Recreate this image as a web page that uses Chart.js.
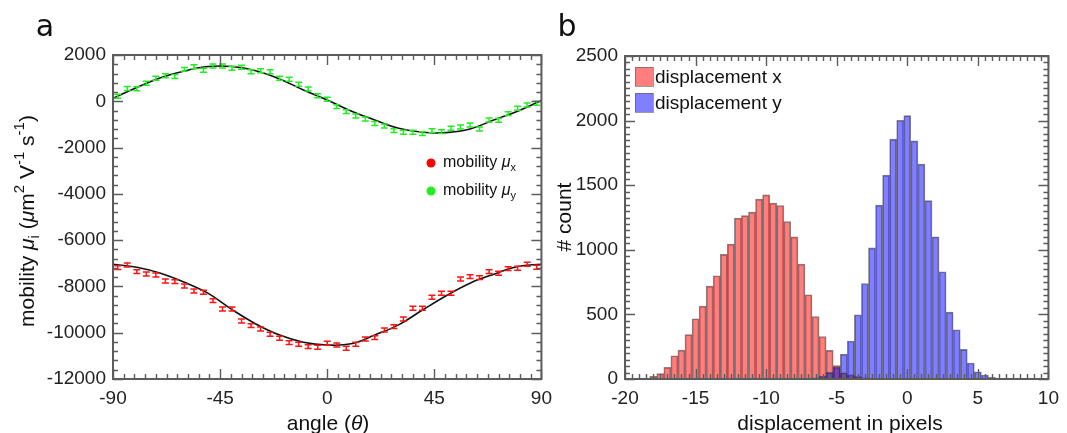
<!DOCTYPE html>
<html>
<head>
<meta charset="utf-8">
<script src="https://cdn.jsdelivr.net/npm/chart.js@4/dist/chart.umd.min.js"></script>
<style>
  body { margin: 0; background: #fff; width: 1067px; height: 433px; overflow: hidden; position: relative; }
  #left { position: absolute; left: 0; top: 0; width: 560px; height: 433px; }
  #right { position: absolute; left: 545px; top: 0; width: 522px; height: 433px; }
</style>
</head>
<body>
<div id="left"><canvas id="mobChart"></canvas></div>
<div id="right"><canvas id="histChart"></canvas></div>
<script>
  // panel a: measured mobilities vs angle
  var angles = [-88,-84,-80,-76,-72,-68,-64,-60,-56,-52,-48,-44,-40,-36,-32,-28,-24,-20,-16,-12,-8,-4,0,4,8,12,16,20,24,28,32,36,40,44,48,52,56,60,64,68,72,76,80,84,88];
  var mobX = [-7187,-7072,-7360,-7461,-7504,-7763,-7792,-7979,-8195,-8253,-8613,-8973,-8973,-9491,-9693,-9837,-10067,-10240,-10427,-10499,-10600,-10629,-10456,-10528,-10672,-10499,-10269,-10211,-9880,-9736,-9405,-8944,-8944,-8469,-8296,-8296,-7677,-7576,-7619,-7360,-7432,-7230,-7216,-7043,-7173];
  var mobY = [220,550,545,776,992,1100,1070,1380,1496,1338,1525,1525,1424,1467,1280,1323,1280,992,949,733,531,243,85,-232,-448,-635,-765,-960,-1067,-1269,-1341,-1341,-1398,-1269,-1312,-1168,-1110,-1024,-1197,-808,-822,-534,-303,-160,-88];
  var errX = 85;
  var errY = 85;
  // fitted curves, read every 10 degrees
  var fitAngles = [-90,-80,-70,-60,-50,-40,-30,-20,-10,0,10,20,30,40,50,60,70,80,90];
  var fitX = [-7040,-7170,-7430,-7820,-8300,-9000,-9620,-10100,-10410,-10530,-10480,-10100,-9660,-9020,-8400,-7860,-7470,-7140,-7040];
  var fitY = [128,600,1020,1310,1500,1500,1320,965,490,56,-420,-808,-1168,-1340,-1355,-1197,-808,-430,30];

  // panel b: histograms (bin centres, bin width 0.5 px)
  var redCenters = [-18.5,-18,-17.5,-17,-16.5,-16,-15.5,-15,-14.5,-14,-13.5,-13,-12.5,-12,-11.5,-11,-10.5,-10,-9.5,-9,-8.5,-8,-7.5,-7,-6.5,-6,-5.5,-5,-4.5,-4,-3.5,-3,-2.5];
  var redCounts  = [5,20,41,90,180,224,343,466,564,719,799,964,1044,1245,1265,1291,1392,1425,1361,1343,1219,1100,889,652,484,329,221,103,48,31,18,10,4];
  var blueCenters = [-7,-6.5,-6,-5.5,-5,-4.5,-4,-3.5,-3,-2.5,-2,-1.5,-1,-0.5,0,0.5,1,1.5,2,2.5,3,3.5,4,4.5,5,5.5,6,6.5];
  var blueCounts  = [4,10,20,51,92,193,294,497,739,1015,1346,1578,1856,2003,2039,1843,1663,1381,1100,830,518,381,229,124,56,31,12,5];

  var FONT = '"Liberation Sans", Arial, sans-serif';

  function richWidth(ctx, parts, size) {
    var w = 0;
    parts.forEach(function (p) { ctx.font = partFont(p, size); w += ctx.measureText(p.t).width; });
    return w;
  }
  function partFont(p, size) {
    var s = (p.sub || p.sup) ? Math.round(size * 0.7) : size;
    return (p.it ? 'italic ' : '') + s + 'px ' + FONT;
  }
  function drawRich(ctx, parts, x, y, size, center) {
    var cx = center ? x - richWidth(ctx, parts, size) / 2 : x;
    ctx.textBaseline = 'middle';
    ctx.textAlign = 'left';
    parts.forEach(function (p) {
      ctx.font = partFont(p, size);
      var dy = p.sub ? size * 0.32 : (p.sup ? -size * 0.38 : 0);
      ctx.fillText(p.t, cx, y + dy);
      cx += ctx.measureText(p.t).width;
    });
  }

  // box with inward ticks on all four sides
  function frame(o) {
    return {
      id: 'frame',
      afterDatasetsDraw: function (chart) {
        var a = chart.chartArea, ctx = chart.ctx, xs = chart.scales.x, ys = chart.scales.y;
        ctx.save();
        ctx.strokeStyle = '#5c5c5c';
        ctx.lineWidth = 1.4;
        ctx.beginPath();
        var n = Math.round((xs.max - xs.min) / o.xMinor);
        for (var k = 0; k <= n; k++) {
          var v = xs.min + k * o.xMinor;
          var L = (Math.abs(v / o.xMajor - Math.round(v / o.xMajor)) < 1e-6) ? 10 : 5;
          var px = Math.round(xs.getPixelForValue(v)) + 0.5;
          ctx.moveTo(px, a.bottom); ctx.lineTo(px, a.bottom - L);
          ctx.moveTo(px, a.top); ctx.lineTo(px, a.top + L);
        }
        n = Math.round((ys.max - ys.min) / o.yMinor);
        for (k = 0; k <= n; k++) {
          v = ys.min + k * o.yMinor;
          L = (Math.abs(v / o.yMajor - Math.round(v / o.yMajor)) < 1e-6) ? 10 : 5;
          var py = Math.round(ys.getPixelForValue(v)) + 0.5;
          ctx.moveTo(a.left, py); ctx.lineTo(a.left + L, py);
          ctx.moveTo(a.right, py); ctx.lineTo(a.right - L, py);
        }
        ctx.stroke();
        ctx.lineWidth = 2;
        ctx.strokeRect(a.left, a.top, a.right - a.left, a.bottom - a.top);
        ctx.restore();
      }
    };
  }

  var errorBars = {
    id: 'errorBars',
    afterDatasetsDraw: function (chart) {
      var ctx = chart.ctx, ys = chart.scales.y;
      chart.data.datasets.forEach(function (ds, i) {
        if (ds.err === undefined) return;
        var meta = chart.getDatasetMeta(i);
        ctx.save();
        ctx.strokeStyle = ds.borderColor;
        ctx.lineWidth = 1.5;
        ctx.beginPath();
        meta.data.forEach(function (pt, j) {
          var v = ds.data[j].y;
          var t = ys.getPixelForValue(v + ds.err), b = ys.getPixelForValue(v - ds.err);
          ctx.moveTo(pt.x, t); ctx.lineTo(pt.x, b);
          ctx.moveTo(pt.x - 3.5, t); ctx.lineTo(pt.x + 3.5, t);
          ctx.moveTo(pt.x - 3.5, b); ctx.lineTo(pt.x + 3.5, b);
        });
        ctx.stroke();
        ctx.restore();
      });
    }
  };

  var leftText = {
    id: 'leftText',
    afterDraw: function (chart) {
      var ctx = chart.ctx;
      ctx.save();
      ctx.fillStyle = '#111';
      ctx.font = '30px "DejaVu Sans", sans-serif';
      ctx.textAlign = 'center';
      ctx.textBaseline = 'alphabetic';
      ctx.fillText('a', 45, 36);

      drawRich(ctx, [{t: 'angle ('}, {t: 'θ', it: true}, {t: ')'}], 328, 424, 21, true);

      ctx.save();
      ctx.translate(28, 221);
      ctx.rotate(-Math.PI / 2);
      drawRich(ctx, [
        {t: 'mobility '}, {t: 'μ', it: true}, {t: 'i', sub: true}, {t: ' ('}, {t: 'μ', it: true}, {t: 'm'},
        {t: '2', sup: true}, {t: ' V'}, {t: '-1', sup: true}, {t: ' s'}, {t: '-1', sup: true}, {t: ')'}
      ], 0, 0, 21, true);
      ctx.restore();

      var items = [['#ff0000', 'x', 163], ['#22ee22', 'y', 191]];
      items.forEach(function (it) {
        ctx.fillStyle = it[0];
        ctx.beginPath();
        ctx.arc(431, it[2], 4.5, 0, Math.PI * 2);
        ctx.fill();
        ctx.fillStyle = '#111';
        drawRich(ctx, [{t: 'mobility '}, {t: 'μ', it: true}, {t: it[1], sub: true}], 443, it[2], 16, false);
      });
      ctx.restore();
    }
  };

  var rightText = {
    id: 'rightText',
    afterDraw: function (chart) {
      var ctx = chart.ctx;
      ctx.save();
      ctx.fillStyle = '#111';
      ctx.font = '30px "DejaVu Sans", sans-serif';
      ctx.textAlign = 'center';
      ctx.textBaseline = 'alphabetic';
      ctx.fillText('b', 22, 36);

      drawRich(ctx, [{t: 'displacement in pixels'}], 295, 424, 21, true);

      ctx.save();
      ctx.translate(20, 217);
      ctx.rotate(-Math.PI / 2);
      drawRich(ctx, [{t: '# count'}], 0, 0, 21, true);
      ctx.restore();

      var legend = [['rgba(255,0,0,0.5)', 'displacement x', 67], ['rgba(0,0,255,0.5)', 'displacement y', 93]];
      legend.forEach(function (l) {
        ctx.fillStyle = l[0];
        ctx.fillRect(90, l[2], 18, 19);
        ctx.strokeStyle = 'rgba(90,90,90,0.6)';
        ctx.lineWidth = 1;
        ctx.strokeRect(90.5, l[2] + 0.5, 18, 19);
        ctx.fillStyle = '#111';
        drawRich(ctx, [{t: l[1]}], 110, l[2] + 11, 19, false);
      });
      ctx.restore();
    }
  };

  var tickFont = { family: FONT, size: 19 };
  function plain(v) { return String(v); }

  new Chart(document.getElementById('mobChart'), {
    type: 'scatter',
    data: {
      datasets: [
        { label: 'mobility μx', data: angles.map(function (a, i) { return {x: a, y: mobX[i]}; }),
          borderColor: '#ff1414', backgroundColor: '#ff1414', pointRadius: 0, err: errX },
        { label: 'mobility μy', data: angles.map(function (a, i) { return {x: a, y: mobY[i]}; }),
          borderColor: '#22ee22', backgroundColor: '#22ee22', pointRadius: 0, err: errY },
        { label: 'fit x', data: fitAngles.map(function (a, i) { return {x: a, y: fitX[i]}; }),
          showLine: true, tension: 0.4, borderColor: '#111', borderWidth: 1.6, pointRadius: 0 },
        { label: 'fit y', data: fitAngles.map(function (a, i) { return {x: a, y: fitY[i]}; }),
          showLine: true, tension: 0.4, borderColor: '#111', borderWidth: 1.6, pointRadius: 0 }
      ]
    },
    options: {
      responsive: true,
      maintainAspectRatio: false,
      animation: false,
      layout: { padding: { left: 0, right: 17, top: 55, bottom: 0 } },
      plugins: { legend: { display: false }, tooltip: { enabled: false } },
      scales: {
        x: {
          type: 'linear', min: -90, max: 90,
          grid: { display: false, drawTicks: false }, border: { display: false },
          ticks: { stepSize: 45, font: tickFont, color: '#222', padding: 8, maxRotation: 0, callback: plain },
          afterFit: function (s) { s.height = 54; }
        },
        y: {
          min: -12000, max: 2000,
          grid: { display: false, drawTicks: false }, border: { display: false },
          ticks: { stepSize: 2000, font: tickFont, color: '#222', padding: 7, callback: plain },
          afterFit: function (s) { s.width = 113; }
        }
      }
    },
    plugins: [errorBars, frame({xMinor: 4.5, xMajor: 45, yMinor: 400, yMajor: 2000}), leftText]
  });

  new Chart(document.getElementById('histChart'), {
    type: 'bar',
    data: {
      datasets: [
        { label: 'displacement x', data: redCenters.map(function (c, i) { return {x: c, y: redCounts[i]}; }),
          backgroundColor: 'rgba(255,0,0,0.5)', borderColor: 'rgba(50,50,50,0.6)', borderWidth: 1,
          barPercentage: 1, categoryPercentage: 1, grouped: false, order: 2 },
        { label: 'displacement y', data: blueCenters.map(function (c, i) { return {x: c, y: blueCounts[i]}; }),
          backgroundColor: 'rgba(0,0,255,0.5)', borderColor: 'rgba(50,50,50,0.6)', borderWidth: 1,
          barPercentage: 1, categoryPercentage: 1, grouped: false, order: 1 }
      ]
    },
    options: {
      responsive: true,
      maintainAspectRatio: false,
      animation: false,
      layout: { padding: { left: 0, right: 12, top: 56, bottom: 0 } },
      plugins: { legend: { display: false }, tooltip: { enabled: false } },
      scales: {
        x: {
          type: 'linear', min: -20, max: 10, offset: false,
          grid: { display: false, drawTicks: false, offset: false }, border: { display: false },
          ticks: { stepSize: 5, font: tickFont, color: '#222', padding: 8, maxRotation: 0, callback: plain },
          afterFit: function (s) { s.height = 54; }
        },
        y: {
          min: 0, max: 2500,
          grid: { display: false, drawTicks: false }, border: { display: false },
          ticks: { stepSize: 500, font: tickFont, color: '#222', padding: 7, callback: plain },
          afterFit: function (s) { s.width = 80; }
        }
      }
    },
    plugins: [frame({xMinor: 0.5, xMajor: 5, yMinor: 50, yMajor: 500}), rightText]
  });
</script>
</body>
</html>
